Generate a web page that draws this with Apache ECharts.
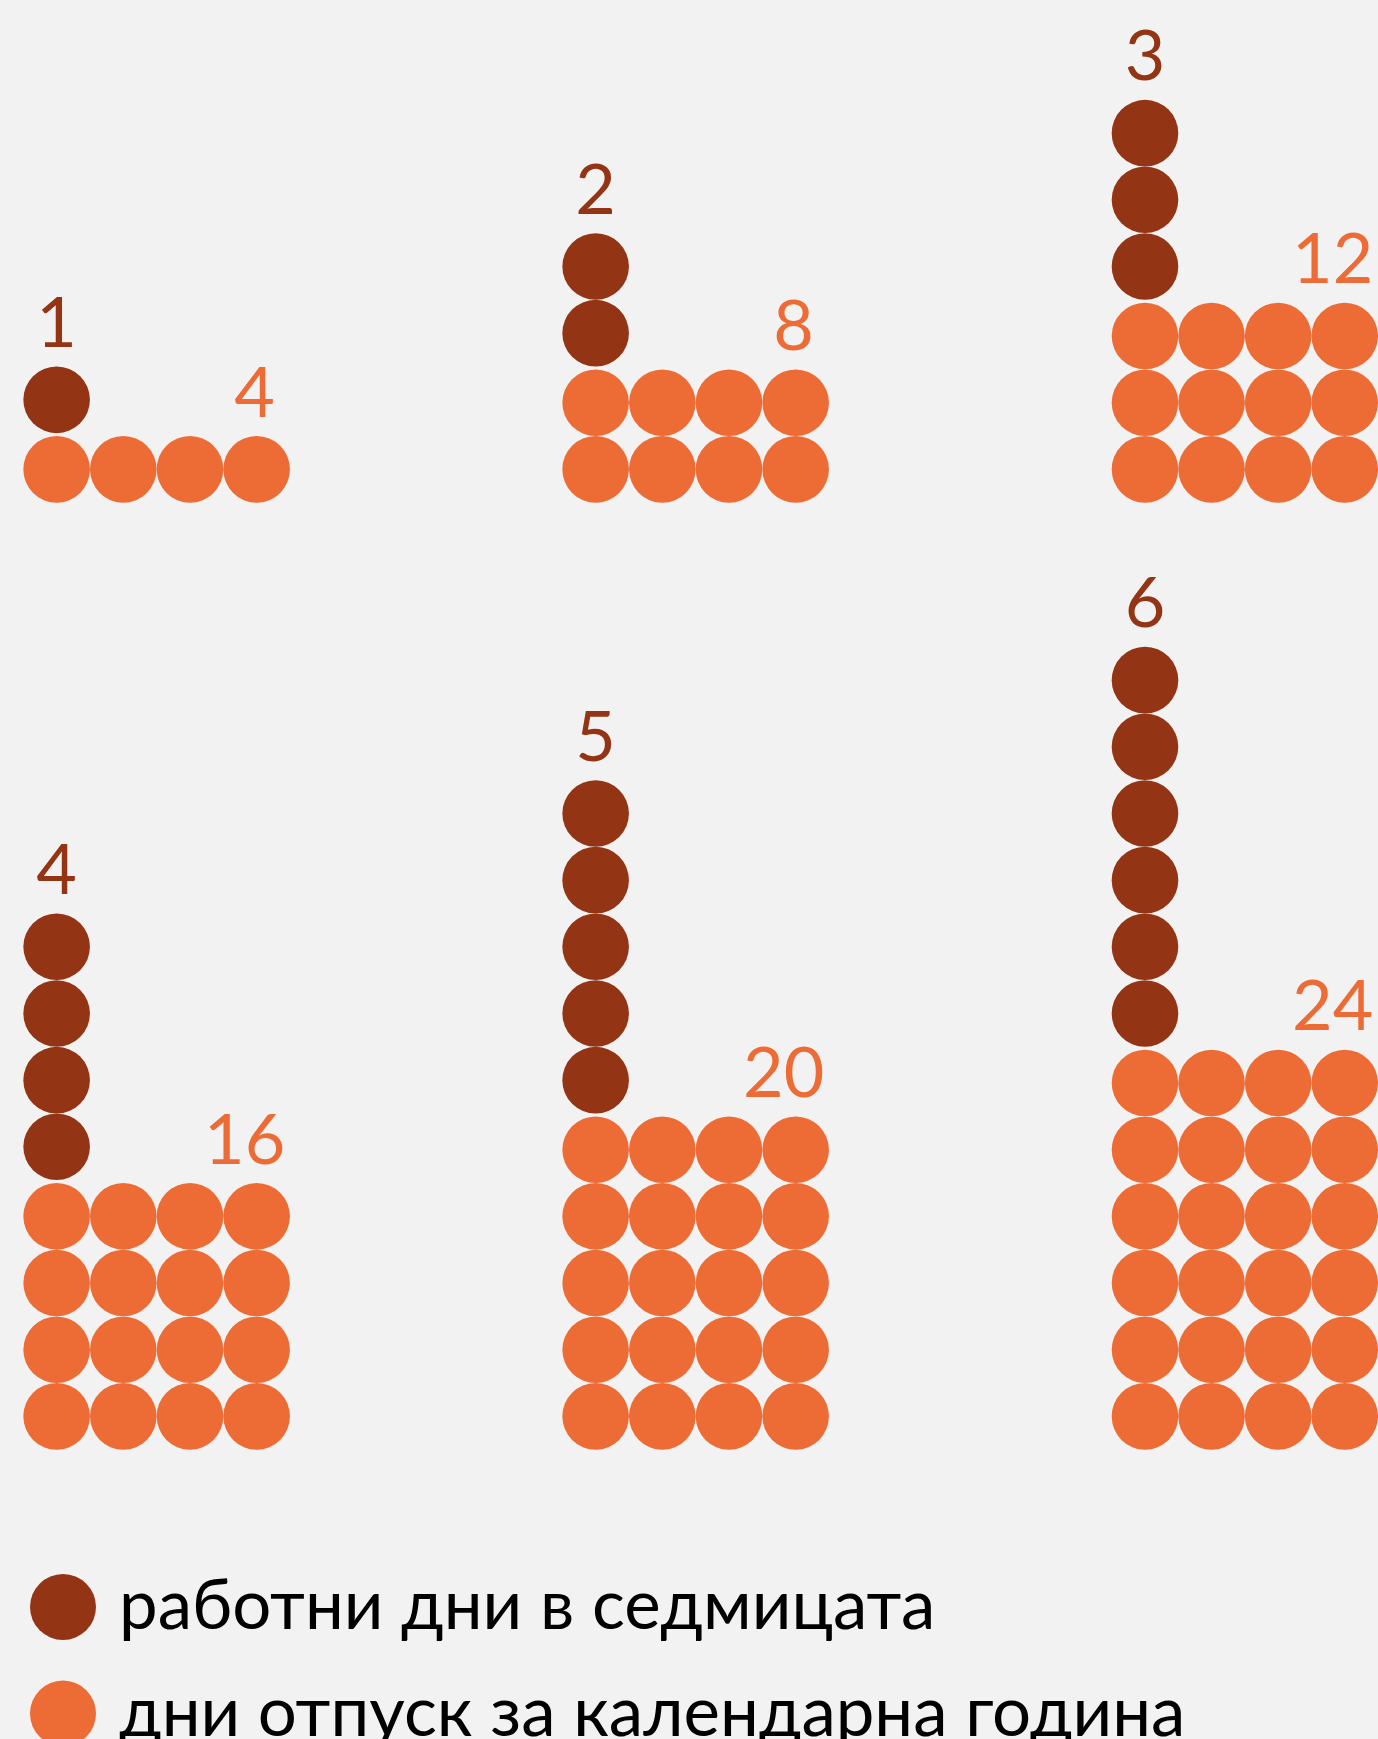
<!DOCTYPE html>
<html>
<head>
<meta charset="utf-8">
<script src="https://cdn.jsdelivr.net/npm/echarts@6/dist/echarts.min.js"></script>
<style>
  html, body { margin: 0; padding: 0; background: #F2F2F2; }
  #chart { width: 1378px; height: 1739px; }
</style>
</head>
<body>
<div id="chart"></div>
<script>
// ---- data ----
const workDays = [1, 2, 3, 4, 5, 6];          // работни дни в седмицата
const vacationDays = [4, 8, 12, 16, 20, 24];  // дни отпуск за календарна година
const seriesNames = ['работни дни в седмицата', 'дни отпуск за календарна година'];

// ---- style / layout ----
const DARK = '#933414';
const ORANGE = '#ED6C36';
const U = 66.67;                 // one unit (dot slot) in px
const PER_ROW = 4;               // vacation dots per row
const STACK_GAP = 0.043;         // small gap between the two stacks (in units)
const colLeft = [23.3, 562.3, 1111.7];
const rowBottom = [502.7, 1449.7];
const rowYMax = [6.5, 11.5];
const FONT = 'Lato';
const NUM_SIZE = 70;

const chart = echarts.init(document.getElementById('chart'), null, { renderer: 'canvas' });

const grids = [], xAxes = [], yAxes = [], series = [];
workDays.forEach((w, i) => {
  const c = i % 3, r = Math.floor(i / 3);
  const h = (rowYMax[r] + 0.5) * U;
  grids.push({ left: colLeft[c], top: rowBottom[r] - h, width: PER_ROW * U, height: h });
  xAxes.push({ type: 'value', gridIndex: i, min: -0.5, max: PER_ROW - 0.5, show: false });
  yAxes.push({ type: 'value', gridIndex: i, min: -0.5, max: rowYMax[r], show: false });

  const v = vacationDays[i];
  const vRows = Math.ceil(v / PER_ROW);
  const vData = [];
  for (let k = 0; k < v; k++) {
    const item = { value: [k % PER_ROW, Math.floor(k / PER_ROW)] };
    if (k === v - 1) {
      const s = String(v);
      item.label = {
        show: true, position: 'top', distance: 7, formatter: s,
        offset: [s.length > 1 ? -12 : -2, 0],
        color: ORANGE, fontSize: NUM_SIZE, fontFamily: FONT
      };
    }
    vData.push(item);
  }
  const wData = [];
  for (let k = 0; k < w; k++) {
    const item = { value: [0, vRows + k + STACK_GAP] };
    if (k === w - 1) {
      item.label = {
        show: true, position: 'top', distance: 7, formatter: String(w),
        color: DARK, fontSize: NUM_SIZE, fontFamily: FONT
      };
    }
    wData.push(item);
  }
  series.push({
    name: seriesNames[1], type: 'scatter', xAxisIndex: i, yAxisIndex: i,
    symbol: 'circle', symbolSize: 66.6, clip: false, silent: true,
    itemStyle: { color: ORANGE, opacity: 1 }, data: vData
  });
  series.push({
    name: seriesNames[0], type: 'scatter', xAxisIndex: i, yAxisIndex: i,
    symbol: 'circle', symbolSize: 66.6, clip: false, silent: true,
    itemStyle: { color: DARK, opacity: 1 }, data: wData
  });
});

const legendTops = [1572.5, 1679];
const legendColors = [DARK, ORANGE];
const legends = seriesNames.map((n, j) => ({
  data: [{ name: n, icon: 'circle', itemStyle: { color: legendColors[j], opacity: 1 } }],
  left: 30, top: legendTops[j], padding: 0,
  itemWidth: 66, itemHeight: 66,
  selectedMode: false,
  textStyle: { fontSize: 69, fontFamily: FONT, color: '#000', padding: [0, 0, 0, 18] }
}));

chart.setOption({
  backgroundColor: '#F2F2F2',
  animation: false,
  grid: grids,
  xAxis: xAxes,
  yAxis: yAxes,
  legend: legends,
  series: series
});
</script>
</body>
</html>
